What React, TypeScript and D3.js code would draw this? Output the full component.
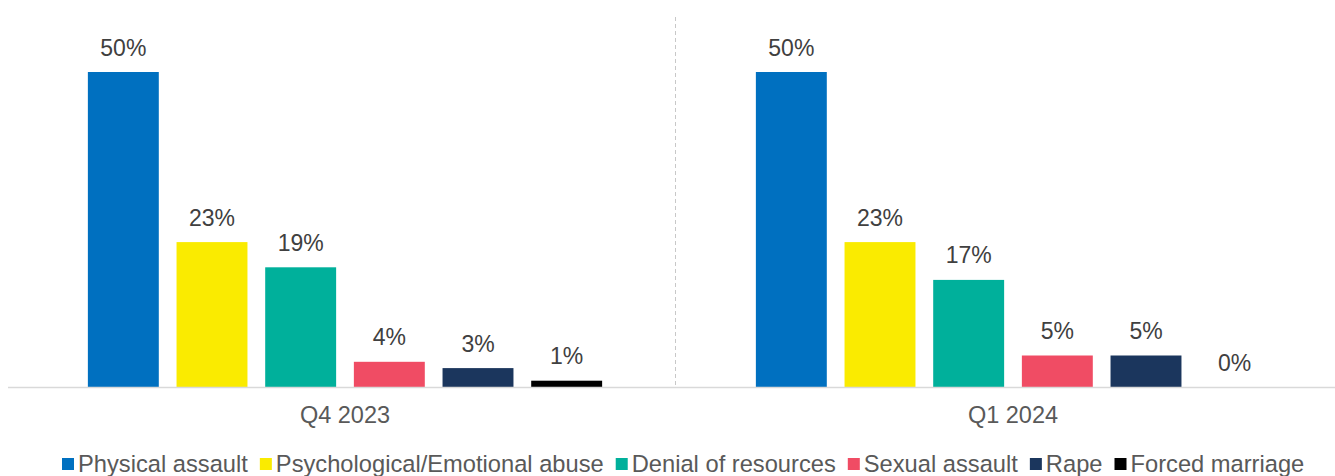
import React, { useEffect, useRef } from "react";
import * as d3 from "d3";

const periods = ["Q4 2023", "Q1 2024"];
const categories = [
  "Physical assault",
  "Psychological/Emotional abuse",
  "Denial of resources",
  "Sexual assault",
  "Rape",
  "Forced marriage",
];
const q4_2023 = [50, 23, 19, 4, 3, 1];
const q1_2024 = [50, 23, 17, 5, 5, 0];
const colors = ["#0070C0", "#FAEB00", "#00B09B", "#F04C64", "#1B365D", "#000000"];

const W = 1335;
const H = 476;

export default function App() {
  const ref = useRef<SVGSVGElement>(null);
  useEffect(() => {
    const svg = d3.select(ref.current);
    svg.selectAll("*").remove();
    const font = "Arial, 'Liberation Sans', sans-serif";
    const series = [q4_2023, q1_2024];

    const x0 = d3.scaleBand<string>().domain(periods).range([11, 1347]).paddingInner(0).paddingOuter(0);
    const x1 = d3
      .scaleBand<string>()
      .domain(categories)
      .range([68, x0.bandwidth() - 68])
      .paddingInner(0.2)
      .paddingOuter(0.1);
    const y = d3.scaleLinear().domain([0, 50]).range([387, 72]);

    // divider
    svg
      .append("line")
      .attr("x1", 675.5)
      .attr("x2", 675.5)
      .attr("y1", 17)
      .attr("y2", 387)
      .attr("stroke", "#C8C8C8")
      .attr("stroke-width", 1)
      .attr("stroke-dasharray", "4,3");

    periods.forEach((p, pi) => {
      const g = svg.append("g").attr("transform", `translate(${x0(p)},0)`);
      categories.forEach((c, ci) => {
        const v = series[pi][ci];
        const bx = x1(c)!;
        g.append("rect")
          .attr("x", bx)
          .attr("y", y(v))
          .attr("width", x1.bandwidth())
          .attr("height", y(0) - y(v))
          .attr("fill", colors[ci]);
        g.append("text")
          .attr("x", bx + x1.bandwidth() / 2)
          .attr("y", y(v) - 16.5)
          .attr("text-anchor", "middle")
          .attr("font-family", font)
          .attr("font-size", 23)
          .attr("fill", "#404040")
          .text(`${v}%`);
      });
      svg
        .append("text")
        .attr("x", x0(p)! + x0.bandwidth() / 2)
        .attr("y", 423)
        .attr("text-anchor", "middle")
        .attr("font-family", font)
        .attr("font-size", 23.5)
        .attr("fill", "#595959")
        .text(p);
    });

    // axis line
    svg
      .append("line")
      .attr("x1", 8)
      .attr("x2", W)
      .attr("y1", 387.5)
      .attr("y2", 387.5)
      .attr("stroke", "#D9D9D9")
      .attr("stroke-width", 1.5);

    // legend
    const lg = svg.append("g");
    let cx = 0;
    categories.forEach((c, i) => {
      const t = lg
        .append("text")
        .attr("y", 472)
        .attr("font-family", font)
        .attr("font-size", 23.7)
        .attr("fill", "#595959")
        .text(c);
      const w = (t.node() as SVGTextElement).getComputedTextLength();
      lg.append("rect")
        .attr("x", cx)
        .attr("y", 458)
        .attr("width", 12)
        .attr("height", 12)
        .attr("fill", colors[i]);
      t.attr("x", cx + 16);
      cx += 16 + w + 12;
    });
    lg.attr("transform", `translate(${62},0)`);
  }, []);

  return (
    <svg
      ref={ref}
      width={W}
      height={H}
      style={{ position: "absolute", left: 0, top: 0, background: "#fff" }}
    />
  );
}
